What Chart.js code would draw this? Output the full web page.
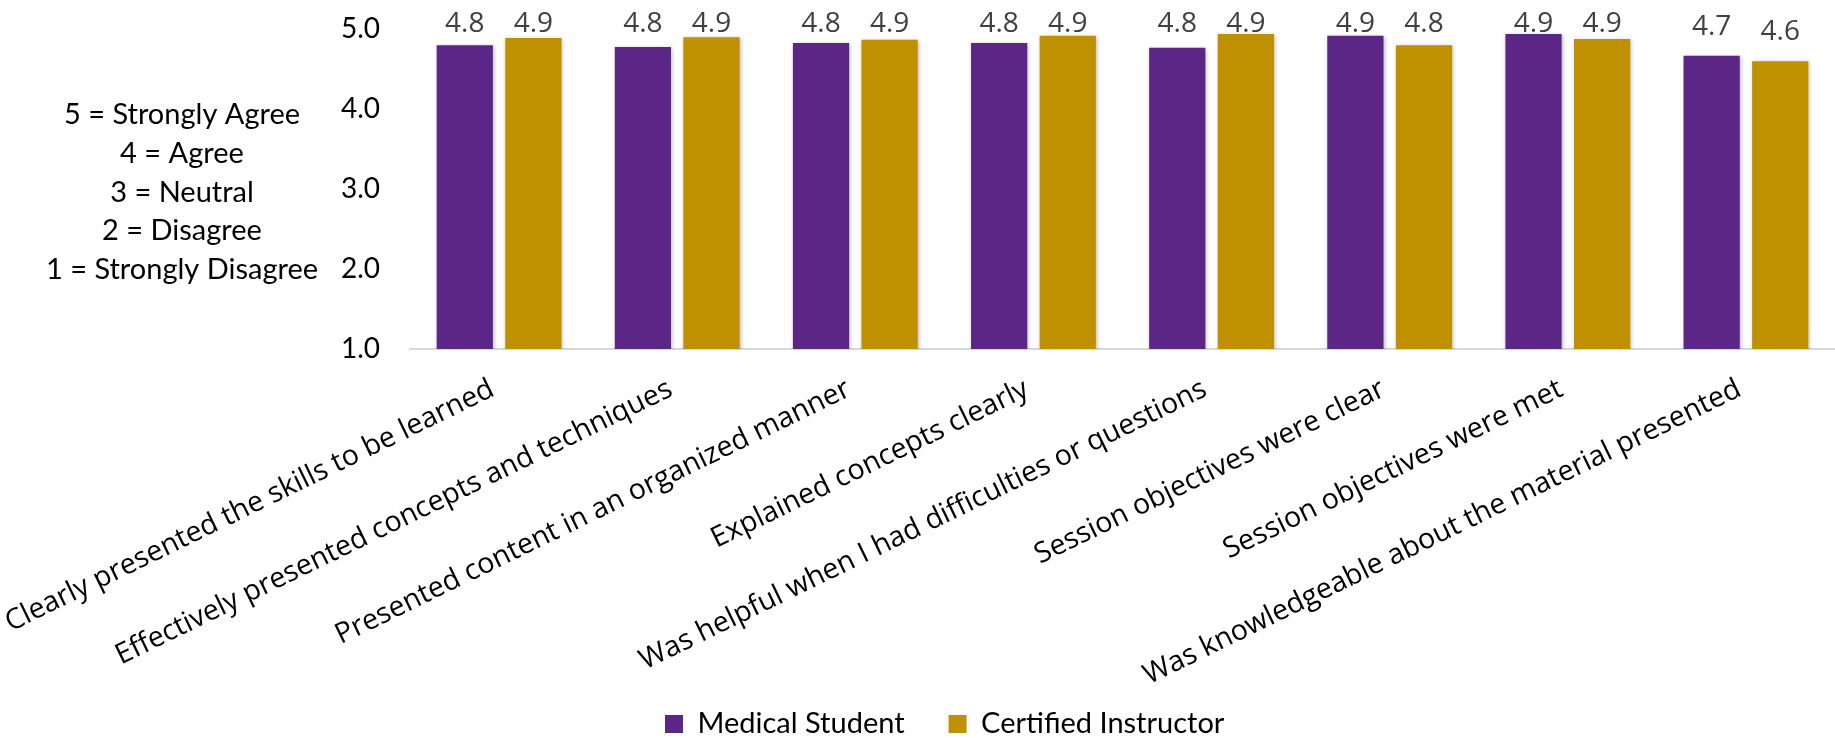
<!DOCTYPE html>
<html>
<head>
<meta charset="utf-8">
<script src="https://cdn.jsdelivr.net/npm/chart.js@4.4.1/dist/chart.umd.min.js"></script>
<style>
  html, body { margin: 0; padding: 0; background: #fff; }
  #wrap { width: 1835px; height: 738px; }
</style>
</head>
<body>
<div id="wrap"><canvas id="ratings"></canvas></div>
<script>
const categories = [
  'Clearly presented the skills to be learned',
  'Effectively presented concepts and techniques',
  'Presented content in an organized manner',
  'Explained concepts clearly',
  'Was helpful when I had difficulties or questions',
  'Session objectives were clear',
  'Session objectives were met',
  'Was knowledgeable about the material presented'
];
const medicalStudent = [4.79, 4.77, 4.82, 4.82, 4.76, 4.91, 4.93, 4.66];
const certifiedInstructor = [4.88, 4.89, 4.86, 4.91, 4.93, 4.79, 4.87, 4.59];
const yTicks = [1, 2, 3, 4, 5];
const scaleNote = [
  '5 = Strongly Agree',
  '4 = Agree',
  '3 = Neutral',
  '2 = Disagree',
  '1 = Strongly Disagree'
];

const CAL = 'Lato, "Open Sans", sans-serif';
const SANS = '"Open Sans", Lato, sans-serif';

// plot box of the original picture
const PLOT_LEFT = 410;
const PLOT_TOP = 28.5;
const PLOT_BOTTOM = 349;

// value labels above the bars (held down near the top edge like Excel does)
const valueLabels = {
  id: 'valueLabels',
  afterDatasetsDraw(chart) {
    const ctx = chart.ctx;
    ctx.save();
    ctx.font = '28px ' + SANS;
    ctx.fillStyle = '#404040';
    ctx.textAlign = 'center';
    ctx.textBaseline = 'alphabetic';
    chart.data.datasets.forEach((ds, i) => {
      chart.getDatasetMeta(i).data.forEach((bar, j) => {
        const y = Math.max(bar.y - 21, 32);
        ctx.fillText(ds.data[j].toFixed(1), bar.x, y);
      });
    });
    ctx.restore();
  }
};

// rating key on the left side
const scaleKey = {
  id: 'scaleKey',
  afterDraw(chart) {
    const ctx = chart.ctx;
    ctx.save();
    ctx.font = '29px ' + CAL;
    ctx.fillStyle = '#000';
    ctx.textAlign = 'center';
    ctx.textBaseline = 'middle';
    scaleNote.forEach((line, i) => {
      ctx.fillText(line, 182, 115 + i * 38.7);
    });
    ctx.restore();
  }
};

// soft shadow under bars
const barShadow = {
  id: 'barShadow',
  beforeDatasetsDraw(chart) {
    const ctx = chart.ctx;
    ctx.save();
    ctx.shadowColor = 'rgba(0,0,0,0.28)';
    ctx.shadowBlur = 4;
    ctx.shadowOffsetX = 1;
    ctx.shadowOffsetY = 1;
  },
  afterDatasetsDraw(chart) {
    chart.ctx.restore();
  }
};

// pin plot area and legend to where the original has them
const pinLayout = {
  id: 'pinLayout',
  afterLayout(chart) {
    const area = chart.chartArea;
    const y = chart.scales.y;
    const x = chart.scales.x;
    const W = chart.width;
    Object.assign(area, {
      left: PLOT_LEFT, right: W, top: PLOT_TOP, bottom: PLOT_BOTTOM,
      width: W - PLOT_LEFT, height: PLOT_BOTTOM - PLOT_TOP
    });
    Object.assign(y, {
      left: 0, right: PLOT_LEFT, width: PLOT_LEFT,
      top: PLOT_TOP, bottom: PLOT_BOTTOM, height: PLOT_BOTTOM - PLOT_TOP
    });
    y.configure();
    Object.assign(x, {
      left: PLOT_LEFT, right: W, width: W - PLOT_LEFT,
      top: PLOT_BOTTOM, bottom: chart.height, height: chart.height - PLOT_BOTTOM
    });
    x.configure();

    const lg = chart.legend;
    if (!lg || !lg.lineWidths) return;
    const p = lg.options.labels.padding;
    const x0 = (lg.left + p + lg.right - lg.lineWidths[0]) / 2;
    const dx = 665 - x0;
    const itemH = Math.max(lg.options.labels.boxHeight, 29 * 1.2);
    const dy = 727 - (lg.top + p + itemH / 2);
    lg.left += dx; lg.right += dx;
    lg.top += dy; lg.bottom += dy;
  }
};

new Chart(document.getElementById('ratings'), {
  type: 'bar',
  data: {
    labels: categories,
    datasets: [
      { label: 'Medical Student', data: medicalStudent, backgroundColor: '#5C2686' },
      { label: 'Certified Instructor', data: certifiedInstructor, backgroundColor: '#BF9000' }
    ]
  },
  options: {
    responsive: true,
    maintainAspectRatio: false,
    animation: false,
    categoryPercentage: 0.77,
    barPercentage: 0.82,
    layout: { padding: { top: 12, right: 0, left: 0, bottom: 0 } },
    plugins: {
      legend: {
        position: 'bottom',
        labels: {
          font: { family: CAL, size: 29 },
          color: '#000',
          boxWidth: 18,
          boxHeight: 18,
          padding: 44
        }
      },
      tooltip: { enabled: false }
    },
    scales: {
      y: {
        min: 1,
        max: 5,
        afterBuildTicks(scale) {
          scale.ticks = yTicks.map(v => ({ value: v }));
        },
        afterFit(scale) { scale.width = PLOT_LEFT; },
        ticks: {
          font: { family: CAL, size: 28 },
          color: '#000',
          padding: 30,
          callback: v => Number(v).toFixed(1)
        },
        grid: { display: false, drawTicks: false },
        border: { display: false }
      },
      x: {
        ticks: {
          font: { family: SANS, size: 28.5 },
          color: '#000',
          minRotation: 26,
          maxRotation: 26,
          autoSkip: false,
          padding: 20,
          callback(v) { return categories[v] + ' '; }
        },
        grid: { display: false, drawTicks: false },
        border: { display: true, color: '#d9d9d9', width: 2 }
      }
    }
  },
  plugins: [barShadow, valueLabels, scaleKey, pinLayout]
});
</script>
</body>
</html>
